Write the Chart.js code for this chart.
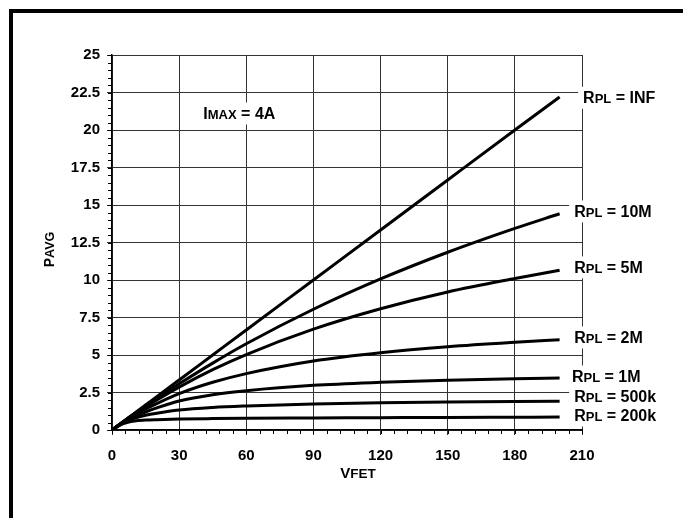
<!DOCTYPE html>
<html>
<head>
<meta charset="utf-8">
<script src="https://cdn.jsdelivr.net/npm/chart.js@4/dist/chart.umd.min.js"></script>
<style>
  html, body { margin: 0; padding: 0; background: #fff; overflow: hidden; }
  #wrap { position: relative; width: 683px; height: 518px; overflow: hidden; }
  #c { position: absolute; left: 0; top: 0; }
  #frame { position: absolute; left: 9px; top: 9px; width: 900px; height: 900px; border: 4px solid #000; }
</style>
</head>
<body>
<div id="wrap">
  <canvas id="c" width="683" height="518"></canvas>
  <div id="frame"></div>
</div>
<script>
// VFET (V) sample points
var vfet = [0, 5, 10, 15, 20, 30, 45, 60, 90, 120, 150, 180, 200];

// PAVG (W) for each parallel resistance
var rplInf  = [0, 0.56, 1.11, 1.67, 2.22, 3.33, 5.0, 6.67, 10.0, 13.33, 16.67, 20.0, 22.2];
var rpl10M  = [0, 0.55, 1.09, 1.61, 2.12, 3.08, 4.46, 5.75, 8.05, 10.07, 11.85, 13.44, 14.42];
var rpl5M   = [0, 0.55, 1.06, 1.54, 2.0, 2.86, 4.02, 5.03, 6.72, 8.08, 9.2, 10.1, 10.65];
var rpl2M   = [0, 0.54, 1.0, 1.4, 1.76, 2.42, 3.18, 3.76, 4.6, 5.15, 5.55, 5.85, 6.02];
var rpl1M   = [0, 0.52, 0.9, 1.2, 1.47, 1.93, 2.35, 2.62, 2.98, 3.18, 3.32, 3.42, 3.47];
var rpl500k = [0, 0.48, 0.78, 0.98, 1.12, 1.33, 1.5, 1.6, 1.74, 1.82, 1.87, 1.9, 1.91];
var rpl200k = [0, 0.42, 0.6, 0.66, 0.69, 0.73, 0.76, 0.78, 0.8, 0.82, 0.84, 0.85, 0.86];

var seriesNames = ["INF", "10M", "5M", "2M", "1M", "500k", "200k"];
var seriesValues = [rplInf, rpl10M, rpl5M, rpl2M, rpl1M, rpl500k, rpl200k];
// where each curve label sits (VFET, PAVG)
var labelX = [210.5, 206.5, 206.5, 206.5, 205.5, 206.5, 206.5];
var labelY = [22.15, 14.57, 10.84, 6.17, 3.57, 2.24, 0.97];

var xTicks = [0, 30, 60, 90, 120, 150, 180, 210];
var yTicks = [0, 2.5, 5, 7.5, 10, 12.5, 15, 17.5, 20, 22.5, 25];

var FONT = "Arial, 'Liberation Sans', sans-serif";

function drawMixed(ctx, parts, x, cy, align) {
  // parts: [text, size]; first size is the big one
  var w = 0;
  parts.forEach(function (p) {
    ctx.font = "bold " + p[1] + "px " + FONT;
    w += ctx.measureText(p[0]).width;
  });
  var x0 = align === "center" ? x - w / 2 : x;
  var base = cy + parts[0][1] * 0.716 / 2;
  parts.forEach(function (p) {
    ctx.font = "bold " + p[1] + "px " + FONT;
    ctx.fillText(p[0], x0, base);
    x0 += ctx.measureText(p[0]).width;
  });
  return w;
}

function boxedLabel(ctx, parts, x, cy) {
  var w = 0;
  parts.forEach(function (p) {
    ctx.font = "bold " + p[1] + "px " + FONT;
    w += ctx.measureText(p[0]).width;
  });
  ctx.fillStyle = "#fff";
  ctx.fillRect(x - 5, cy - 11, w + 8, 22);
  ctx.fillStyle = "#000";
  drawMixed(ctx, parts, x, cy, "left");
}

var decor = {
  id: "decor",
  afterDraw: function (chart) {
    var ctx = chart.ctx, xs = chart.scales.x, ys = chart.scales.y, a = chart.chartArea;
    ctx.save();
    // minor ticks
    ctx.strokeStyle = "#000";
    ctx.lineWidth = 1;
    ctx.beginPath();
    for (var v = 0; v <= 25.001; v += 0.5) {
      var py = Math.round(ys.getPixelForValue(v)) + 0.5;
      ctx.moveTo(a.left - 4, py);
      ctx.lineTo(a.left, py);
    }
    for (var u = 0; u <= 210; u += 6) {
      var px = Math.round(xs.getPixelForValue(u)) + 0.5;
      ctx.moveTo(px, a.bottom);
      ctx.lineTo(px, a.bottom + 4);
    }
    ctx.stroke();

    // curve labels
    ctx.textAlign = "left";
    ctx.textBaseline = "alphabetic";
    seriesNames.forEach(function (n, i) {
      boxedLabel(ctx, [["R", 16], ["PL", 13], [" = " + n, 16]],
        xs.getPixelForValue(labelX[i]), ys.getPixelForValue(labelY[i]));
    });
    boxedLabel(ctx, [["I", 16], ["MAX", 13], [" = 4A", 16]],
      xs.getPixelForValue(40.8), ys.getPixelForValue(21.1));

    // axis titles
    ctx.fillStyle = "#000";
    drawMixed(ctx, [["V", 15], ["FET", 13.5]], (a.left + a.right) / 2 + 11, a.bottom + 43, "center");
    ctx.translate(49, (a.top + a.bottom) / 2 + 7);
    ctx.rotate(-Math.PI / 2);
    drawMixed(ctx, [["P", 14], ["AVG", 12.5]], 0, 0, "center");
    ctx.restore();
  }
};

var datasets = seriesValues.map(function (vals, i) {
  return {
    label: "RPL = " + seriesNames[i],
    data: vals.map(function (p, k) { return { x: vfet[k], y: p }; }),
    borderColor: "#000",
    borderWidth: 3,
    pointRadius: 0,
    fill: false,
    cubicInterpolationMode: "monotone"
  };
});

new Chart(document.getElementById("c").getContext("2d"), {
  type: "line",
  data: { datasets: datasets },
  options: {
    responsive: false,
    animation: false,
    devicePixelRatio: 1,
    layout: { padding: { left: 0, top: 55, right: 101, bottom: 0 } },
    plugins: { legend: { display: false }, tooltip: { enabled: false } },
    scales: {
      x: {
        type: "linear",
        min: 0,
        max: 210,
        afterBuildTicks: function (s) { s.ticks = xTicks.map(function (v) { return { value: v }; }); },
        afterFit: function (s) { s.height = 88; },
        grid: { color: "#333", lineWidth: 1, tickLength: 5 },
        border: { color: "#000", width: 1.5 },
        ticks: { color: "#000", font: { family: FONT, size: 15, weight: "bold" }, padding: 12, maxRotation: 0 }
      },
      y: {
        type: "linear",
        min: 0,
        max: 25,
        afterBuildTicks: function (s) { s.ticks = yTicks.map(function (v) { return { value: v }; }); },
        afterFit: function (s) { s.width = 112; },
        grid: { color: "#333", lineWidth: 1, tickLength: 5 },
        border: { color: "#000", width: 1.5 },
        ticks: {
          color: "#000",
          font: { family: FONT, size: 15, weight: "bold" },
          padding: 7,
          callback: function (v) { return String(Number(v.toFixed(1))); }
        }
      }
    }
  },
  plugins: [decor]
});
</script>
</body>
</html>
